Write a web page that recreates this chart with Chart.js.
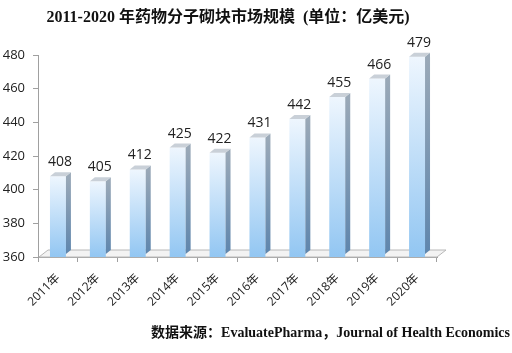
<!DOCTYPE html>
<html>
<head>
<meta charset="utf-8">
<script src="https://cdn.jsdelivr.net/npm/chart.js@4/dist/chart.umd.min.js"></script>
<style>
  html, body { margin: 0; padding: 0; background: #fff; }
  #wrap { width: 512px; height: 353px; }
</style>
</head>
<body>
<div id="wrap"><canvas id="marketChart"></canvas></div>
<script>
const years = ["2011年", "2012年", "2013年", "2014年", "2015年", "2016年", "2017年", "2018年", "2019年", "2020年"];
const marketSize = [408, 405, 412, 425, 422, 431, 442, 455, 466, 479];
const yTicks = [360, 380, 400, 420, 440, 460, 480];

const titleText = "2011-2020 年药物分子砌块市场规模  (单位：亿美元)";
const sourceText = "数据来源：EvaluatePharma，Journal of Health Economics";

// 3D效果：侧面、顶面、地板、数据标签、标题
const bar3d = {
  id: "bar3d",
  beforeDatasetsDraw(chart) {
    const { ctx, chartArea } = chart;
    const b = chartArea.bottom, l = chartArea.left, r = chartArea.right;
    ctx.save();
    ctx.beginPath();
    ctx.moveTo(l + 1, b);
    ctx.lineTo(r, b);
    ctx.lineTo(r + 9, b - 7);
    ctx.lineTo(l + 10, b - 7);
    ctx.closePath();
    ctx.fillStyle = "#f3f3f3";
    ctx.fill();
    ctx.strokeStyle = "#b8b8b8";
    ctx.lineWidth = 1;
    ctx.stroke();
    ctx.restore();
  },
  afterDatasetsDraw(chart) {
    const { ctx, chartArea } = chart;
    const meta = chart.getDatasetMeta(0);
    const dx = 5, dy = -4;
    ctx.save();
    meta.data.forEach((bar, i) => {
      const x0 = bar.x - bar.width / 2, x1 = bar.x + bar.width / 2;
      const top = bar.y, bot = chartArea.bottom - 3;
      // side
      const g = ctx.createLinearGradient(0, top, 0, bot);
      g.addColorStop(0, "#9aa9b8");
      g.addColorStop(1, "#5f86ad");
      ctx.fillStyle = g;
      ctx.beginPath();
      ctx.moveTo(x1, top);
      ctx.lineTo(x1 + dx, top + dy);
      ctx.lineTo(x1 + dx, bot + dy);
      ctx.lineTo(x1, bot);
      ctx.closePath();
      ctx.fill();
      // top
      ctx.fillStyle = "#c9d0d8";
      ctx.beginPath();
      ctx.moveTo(x0, top);
      ctx.lineTo(x0 + dx, top + dy);
      ctx.lineTo(x1 + dx, top + dy);
      ctx.lineTo(x1, top);
      ctx.closePath();
      ctx.fill();
      // label
      ctx.fillStyle = "#222";
      ctx.font = "14px 'Open Sans', 'Liberation Sans', sans-serif";
      ctx.textAlign = "center";
      ctx.textBaseline = "bottom";
      ctx.fillText(String(marketSize[i]), bar.x + 2, top - 7);
    });
    ctx.restore();
  },
  afterDraw(chart) {
    const { ctx } = chart;
    ctx.save();
    ctx.fillStyle = "#111";
    ctx.font = "bold 16px 'Liberation Serif', 'Noto Sans CJK SC', serif";
    ctx.textAlign = "center";
    ctx.textBaseline = "middle";
    ctx.fillText(titleText, 228, 18);
    ctx.font = "bold 14px 'Liberation Serif', 'Noto Sans CJK SC', serif";
    ctx.textAlign = "right";
    ctx.fillText(sourceText, 510, 333);
    ctx.restore();
  }
};

const ctx = document.getElementById("marketChart").getContext("2d");

new Chart(ctx, {
  type: "bar",
  data: {
    labels: years,
    datasets: [
      {
        data: marketSize,
        backgroundColor: (c) => {
          const chart = c.chart;
          if (!chart.chartArea || c.parsed === undefined) return "#b8dcf8";
          const yTop = chart.scales.y.getPixelForValue(c.parsed.y);
          const g = chart.ctx.createLinearGradient(0, yTop, 0, chart.chartArea.bottom);
          g.addColorStop(0, "#eef6fe");
          g.addColorStop(1, "#92c6f2");
          return g;
        },
        borderWidth: 0,
        categoryPercentage: 1,
        barPercentage: 0.4,
      },
    ],
  },
  options: {
    responsive: true,
    maintainAspectRatio: false,
    animation: false,
    layout: { padding: { top: 55, right: 75, left: 0, bottom: 0 } },
    plugins: {
      legend: { display: false },
      tooltip: { enabled: false },
    },
    scales: {
      y: {
        min: 360,
        max: 480,
        afterFit: (s) => { s.width = 38; },
        afterBuildTicks: (s) => { s.ticks = yTicks.map((v) => ({ value: v })); },
        border: { color: "#a0a0a0" },
        grid: { drawOnChartArea: false, tickLength: 5, color: "#a0a0a0" },
        ticks: {
          color: "#222",
          padding: 8,
          font: { size: 13, family: "'Open Sans', 'Liberation Sans', sans-serif" },
        },
      },
      x: {
        afterFit: (s) => { s.height = 96; },
        border: { color: "#a0a0a0" },
        grid: { drawOnChartArea: false, tickLength: 5, color: "#a0a0a0", offset: true },
        ticks: {
          color: "#222",
          maxRotation: 45,
          minRotation: 45,
          padding: 9,
          font: { size: 12, family: "'Open Sans', 'Liberation Sans', 'Noto Sans CJK SC', sans-serif" },
        },
      },
    },
  },
  plugins: [bar3d],
});
</script>
</body>
</html>
